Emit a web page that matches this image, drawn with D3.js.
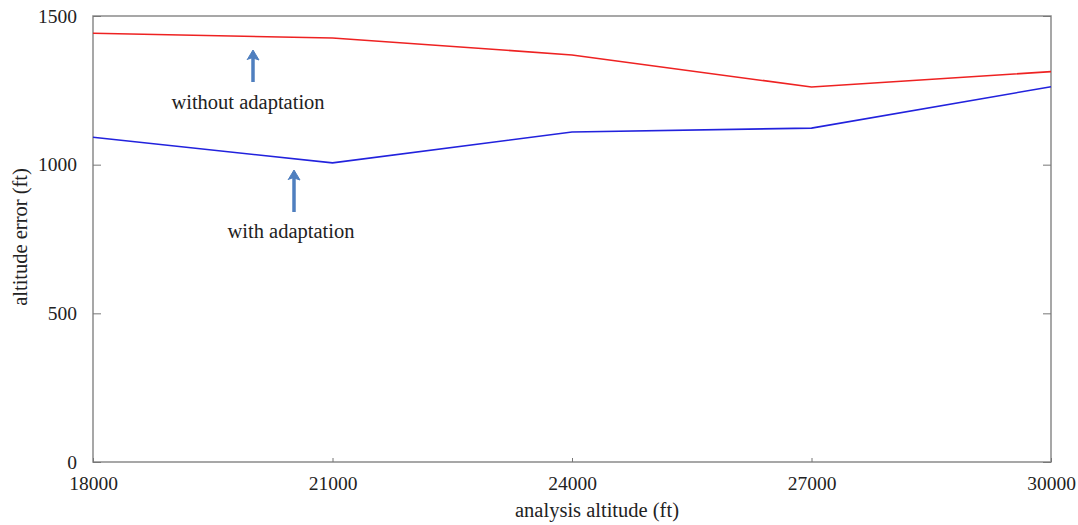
<!DOCTYPE html>
<html>
<head>
<meta charset="utf-8">
<script src="https://cdn.jsdelivr.net/npm/d3@7"></script>
<style>
  body { margin: 0; background: #fff; }
  text { font-family: "Liberation Serif", "Times New Roman", serif; fill: #222; }
</style>
</head>
<body>
<div id="chart"></div>
<script>
// Data
var altitudes = [18000, 21000, 24000, 27000, 30000];
var withoutAdaptation = [1442, 1426, 1369, 1261, 1313];
var withAdaptation = [1092, 1006, 1110, 1123, 1262];
var xTicks = [18000, 21000, 24000, 27000, 30000];
var yTicks = [0, 500, 1000, 1500];

var svgWidth = 1078, svgHeight = 525;
var margin = { top: 16, right: 27, bottom: 63, left: 93 };
var width = svgWidth - margin.left - margin.right;
var height = svgHeight - margin.top - margin.bottom;

var svg = d3.select("#chart")
  .append("svg")
  .attr("width", svgWidth)
  .attr("height", svgHeight);

var chart = svg.append("g")
  .attr("transform", "translate(" + margin.left + "," + margin.top + ")");

var x = d3.scaleLinear().domain([18000, 30000]).range([0, width]);
var y = d3.scaleLinear().domain([0, 1500]).range([height, 0]);

// frame
chart.append("rect")
  .attr("width", width).attr("height", height)
  .attr("fill", "none").attr("stroke", "#8a8a8a").attr("stroke-width", 1.5);

// axes, ticks pointing inward
var leftAxis = d3.axisLeft(y).tickValues(yTicks).tickSize(-8).tickPadding(16).tickFormat(d3.format("d"));
var rightAxis = d3.axisRight(y).tickValues(yTicks).tickSize(-8).tickFormat("");
var bottomAxis = d3.axisBottom(x).tickValues(xTicks).tickSize(-4).tickPadding(14).tickFormat(d3.format("d"));

function styleAxis(g) {
  g.select(".domain").remove();
  g.selectAll(".tick line").attr("stroke", "#777");
  g.selectAll(".tick text").style("font-size", "19.5px").attr("fill", "#222");
}

chart.append("g").call(leftAxis).call(styleAxis);
chart.append("g").attr("transform", "translate(" + width + ",0)").call(rightAxis).call(styleAxis);
chart.append("g").attr("transform", "translate(0," + height + ")").call(bottomAxis).call(styleAxis);

// lines
var line = d3.line()
  .x(function(d, i) { return x(altitudes[i]); })
  .y(function(d) { return y(d); });

chart.append("path").datum(withoutAdaptation)
  .attr("d", line).attr("fill", "none").attr("stroke", "#ee2222").attr("stroke-width", 1.6);
chart.append("path").datum(withAdaptation)
  .attr("d", line).attr("fill", "none").attr("stroke", "#2222dd").attr("stroke-width", 1.6);

// annotations
var arrowColor = "#4f7fbf";

function arrow(cx, y1, y2) {
  svg.append("line")
    .attr("x1", cx).attr("x2", cx)
    .attr("y1", y1 + 8).attr("y2", y2)
    .attr("stroke", arrowColor).attr("stroke-width", 3.5);
  svg.append("path")
    .attr("d", d3.line()([[cx - 6, y1 + 10], [cx, y1], [cx + 6, y1 + 10], [cx, y1 + 8]]))
    .attr("fill", arrowColor).attr("stroke", arrowColor)
    .attr("stroke-width", 1).attr("stroke-linejoin", "round");
}
arrow(253, 50, 82);
arrow(294, 170, 212);

svg.append("text").attr("x", 248).attr("y", 109)
  .attr("text-anchor", "middle").style("font-size", "20.5px")
  .text("without adaptation");
svg.append("text").attr("x", 291).attr("y", 238)
  .attr("text-anchor", "middle").style("font-size", "20.5px")
  .text("with adaptation");

// axis labels
svg.append("text")
  .attr("x", margin.left + width / 2 + 25).attr("y", 517)
  .attr("text-anchor", "middle").style("font-size", "20.5px")
  .text("analysis altitude (ft)");

svg.append("text")
  .attr("transform", "translate(27,237) rotate(-90)")
  .attr("text-anchor", "middle").style("font-size", "20.5px")
  .text("altitude error (ft)");
</script>
</body>
</html>
